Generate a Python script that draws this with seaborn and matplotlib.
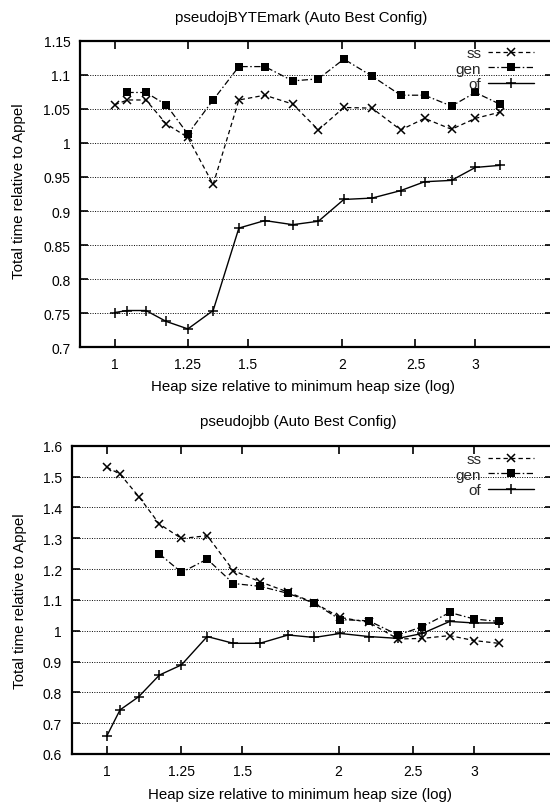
import matplotlib
matplotlib.use("Agg")
import matplotlib.pyplot as plt
import seaborn as sns
import numpy as np

# ---------------- data ----------------
heap = [1.0, 1.04, 1.1, 1.17, 1.25, 1.35, 1.46, 1.58, 1.72, 1.86, 2.01, 2.19, 2.39, 2.57, 2.79, 3.0, 3.23]

# pseudojBYTEmark
byte_ss = [1.056, 1.063, 1.063, 1.028, 1.008, 0.939, 1.063, 1.070, 1.057, 1.019, 1.052, 1.051, 1.019, 1.036, 1.020, 1.036, 1.045]
byte_gen_heap = heap[1:]
byte_gen = [1.074, 1.074, 1.056, 1.013, 1.063, 1.112, 1.112, 1.091, 1.094, 1.123, 1.098, 1.070, 1.070, 1.054, 1.074, 1.057]
byte_of = [0.751, 0.754, 0.754, 0.738, 0.727, 0.754, 0.875, 0.886, 0.880, 0.885, 0.917, 0.919, 0.930, 0.943, 0.945, 0.964, 0.967]

# pseudojbb
jbb_ss = [1.530, 1.508, 1.435, 1.346, 1.299, 1.308, 1.195, 1.159, 1.125, 1.090, 1.043, 1.027, 0.973, 0.975, 0.984, 0.968, 0.959]
jbb_gen_heap = heap[3:]
jbb_gen = [1.249, 1.189, 1.232, 1.153, 1.144, 1.121, 1.089, 1.036, 1.032, 0.986, 1.013, 1.059, 1.038, 1.030]
jbb_of = [0.659, 0.743, 0.786, 0.856, 0.889, 0.981, 0.959, 0.959, 0.986, 0.978, 0.991, 0.981, 0.975, 0.991, 1.030, 1.025, 1.025]

xticks = [1, 1.25, 1.5, 2, 2.5, 3]
xtick_labels = ["1", "1.25", "1.5", "2", "2.5", "3"]
byte_yticks = [0.7, 0.75, 0.8, 0.85, 0.9, 0.95, 1.0, 1.05, 1.1, 1.15]
byte_ytick_labels = ["0.7", "0.75", "0.8", "0.85", "0.9", "0.95", "1", "1.05", "1.1", "1.15"]
jbb_yticks = [0.6, 0.7, 0.8, 0.9, 1.0, 1.1, 1.2, 1.3, 1.4, 1.5, 1.6]
jbb_ytick_labels = ["0.6", "0.7", "0.8", "0.9", "1", "1.1", "1.2", "1.3", "1.4", "1.5", "1.6"]

titles = ["pseudojBYTEmark (Auto Best Config)", "pseudojbb (Auto Best Config)"]
xlabel = "Heap size relative to minimum heap size (log)"
ylabel = "Total time relative to Appel"
series_names = ["ss", "gen", "of"]

# ---------------- style ----------------
sns.set_theme(style="ticks")
plt.rcParams['font.family'] = ['Liberation Sans', 'DejaVu Sans']

W, H = 550, 803
fig = plt.figure(figsize=(W / 100, H / 100), dpi=100)

def px_axes(left, top, right, bottom):
    return fig.add_axes([left / W, 1 - bottom / H, (right - left) / W, (bottom - top) / H])

ax1 = px_axes(80, 41.7, 553, 348.3)
ax2 = px_axes(71.7, 446.7, 553, 755)

ss_style = dict(color="black", marker="x", markersize=5.5, markeredgewidth=1.1,
                markeredgecolor="black", markerfacecolor="black",
                linestyle=(0, (3.5, 2.5)), linewidth=0.9)
gen_style = dict(color="black", marker="s", markersize=6, markeredgewidth=0,
                 markeredgecolor="black", markerfacecolor="black",
                 linestyle=(0, (5, 2, 1.2, 2)), linewidth=0.9)
of_style = dict(color="black", marker="+", markersize=7, markeredgewidth=1.1,
                markeredgecolor="black", markerfacecolor="black",
                linestyle="-", linewidth=1.0)

def draw(ax, ss, gen_x, gen, of, yticks, ylabels, ylim, title, title_xy,
         xlabel_xy, ylabel_xy, ax_box):
    sns.lineplot(x=heap, y=ss, ax=ax, label=series_names[0], estimator=None, sort=False, **ss_style)
    sns.lineplot(x=gen_x, y=gen, ax=ax, label=series_names[1], estimator=None, sort=False, **gen_style)
    sns.lineplot(x=heap, y=of, ax=ax, label=series_names[2], estimator=None, sort=False, **of_style)
    ax.set_xscale("log")
    ax.set_xlim(0.9, 3.8)
    ax.set_ylim(*ylim)
    ax.set_xticks(xticks)
    ax.set_xticklabels(xtick_labels)
    ax.xaxis.set_minor_locator(matplotlib.ticker.NullLocator())
    ax.set_yticks(yticks)
    ax.set_yticklabels(ylabels)
    ax.tick_params(axis="both", which="major", direction="in", length=6, width=1.2,
                   top=True, right=True, labelsize=10, pad=7, colors="black")
    ax.yaxis.grid(True, linestyle=(0, (1, 1.5)), color="black", linewidth=0.7)
    ax.xaxis.grid(False)
    for s in ax.spines.values():
        s.set_linewidth(1.6)
        s.set_color("black")
    left, top, right, bottom = ax_box
    ax.set_xlabel(xlabel, fontsize=10.8, color="black", va="center")
    ax.xaxis.set_label_coords((xlabel_xy[0] - left) / (right - left),
                              (bottom - xlabel_xy[1]) / (bottom - top))
    ax.set_ylabel(ylabel, fontsize=10.8, color="black", va="center", ha="center")
    ax.yaxis.set_label_coords((ylabel_xy[0] - left) / (right - left),
                              (bottom - ylabel_xy[1]) / (bottom - top))
    ax.set_facecolor("white")
    fig.text(title_xy[0] / W, 1 - title_xy[1] / H, title, ha="center", va="center",
             fontsize=10.8, color="black")

draw(ax1, byte_ss, byte_gen_heap, byte_gen, byte_of, byte_yticks, byte_ytick_labels,
     (0.7, 1.15), titles[0], (301, 18), (303, 387), (19.5, 191), (80, 41.7, 553, 348.3))
draw(ax2, jbb_ss, jbb_gen_heap, jbb_gen, jbb_of, jbb_yticks, jbb_ytick_labels,
     (0.6, 1.6), titles[1], (298.5, 422), (300, 795), (20, 601), (71.7, 446.7, 553, 755))

for ax, top_px in [(ax1, 47), (ax2, 453)]:
    ax.legend(loc="upper right", bbox_to_anchor=(534 / W, 1 - top_px / H),
              bbox_transform=fig.transFigure, frameon=False, markerfirst=False,
              handlelength=3.0, handletextpad=0.45, labelspacing=0.1,
              borderpad=0, borderaxespad=0, fontsize=11)

fig.savefig("out.png", dpi=100, facecolor="white")
